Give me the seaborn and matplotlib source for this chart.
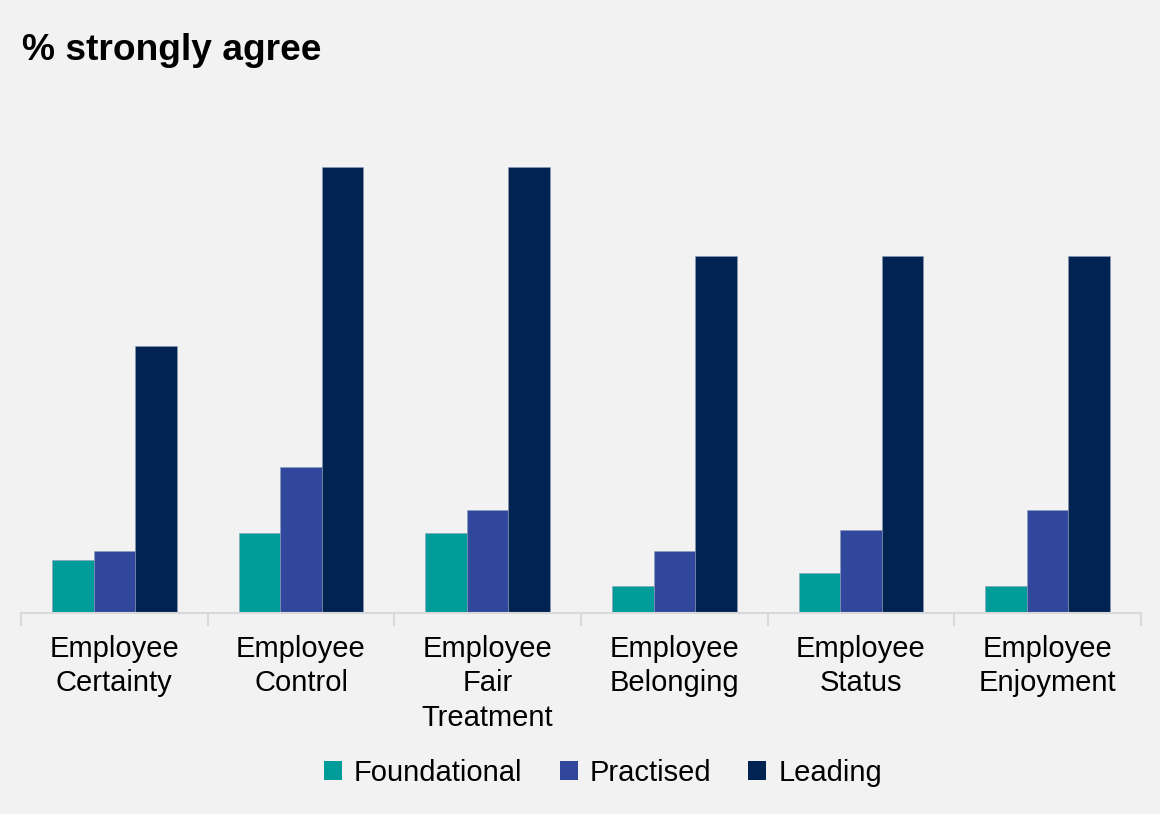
import matplotlib
matplotlib.use("Agg")
import matplotlib.pyplot as plt
from matplotlib.patches import Patch
import seaborn as sns
import pandas as pd

categories = ["Employee\nCertainty", "Employee\nControl", "Employee\nFair\nTreatment",
              "Employee\nBelonging", "Employee\nStatus", "Employee\nEnjoyment"]
series = ["Foundational", "Practised", "Leading"]
foundational = [6, 9, 9, 3, 4.5, 3]
practised = [7, 16.4, 11.6, 7, 9.3, 11.6]
leading = [30, 50, 50, 40, 40, 40]
colors = ["#009C99", "#31479B", "#002352"]

rows = []
for s, vals in zip(series, [foundational, practised, leading]):
    for c, v in zip(categories, vals):
        rows.append({"category": c, "series": s, "value": v})
df = pd.DataFrame(rows)

sns.set_theme(style="white")
plt.rcParams["font.family"] = ["Liberation Sans", "DejaVu Sans"]
bg = "#F2F2F2"

fig = plt.figure(figsize=(11.6, 8.14), dpi=100, facecolor=bg)
W, H = 1160, 814
ax_left, ax_right, ax_bottom, ax_top = 21, 1141, 613, 100
ax = fig.add_axes([ax_left / W, 1 - ax_bottom / H, (ax_right - ax_left) / W, (ax_bottom - ax_top) / H])
ax.set_facecolor(bg)

sns.barplot(data=df, x="category", y="value", hue="series", order=categories,
            hue_order=series, palette=colors, width=0.667, gap=0, ax=ax,
            legend=False, edgecolor="#8A9BB8", linewidth=0.4, saturation=1)

ax.set_xlim(-0.5, len(categories) - 0.5)
ax.set_ylim(0, (ax_bottom - ax_top) / 8.914)
for sp in ["top", "right", "left"]:
    ax.spines[sp].set_visible(False)
ax.spines["bottom"].set_color("#D9D9D9")
ax.spines["bottom"].set_linewidth(1.5)
ax.set_yticks([])
ax.set_xlabel("")
ax.set_ylabel("")
ax.set_xticks(range(len(categories)))
ax.set_xticklabels(categories, fontsize=21, color="#000000", linespacing=1.28)
ax.tick_params(axis="x", which="major", bottom=True, length=0, pad=16)
ax.set_xticks([i - 0.5 for i in range(len(categories) + 1)], minor=True)
ax.tick_params(axis="x", which="minor", bottom=True, length=9, width=1.5,
               color="#D9D9D9", direction="out")

fig.text(22 / W, 1 - 60 / H, "% strongly agree", fontsize=26.7, fontweight="bold",
         color="#000000", ha="left", va="baseline")

handles = [Patch(facecolor=c, edgecolor="none", label=s) for s, c in zip(series, colors)]
leg = fig.legend(handles=handles, loc="center", bbox_to_anchor=(603 / W, 1 - 773 / H), ncol=3,
                 frameon=False, fontsize=21, handlelength=0.62, handleheight=0.62,
                 handletextpad=0.41, columnspacing=1.27)
for t in leg.get_texts():
    t.set_color("#000000")

fig.savefig("out.png", dpi=100, facecolor=bg)
